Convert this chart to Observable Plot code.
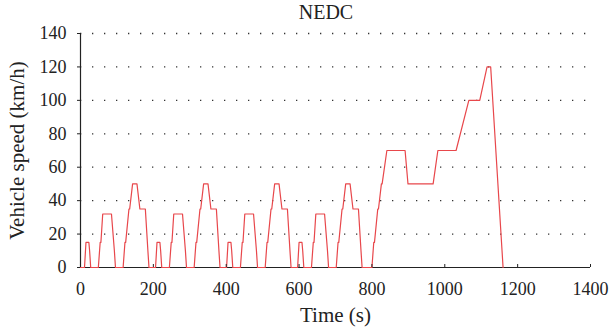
<!DOCTYPE html>
<html><head><meta charset="utf-8">
<script src="https://cdn.jsdelivr.net/npm/d3@7"></script>
<script src="https://cdn.jsdelivr.net/npm/@observablehq/plot@0.6"></script>
<style>
body{margin:0;background:#fff;font-family:"Liberation Serif",serif;}
#title{height:22px;width:609px;box-sizing:border-box;padding-left:43px;text-align:center;font-size:20px;line-height:24px;color:#222;}
svg text{font-family:"Liberation Serif",serif !important;font-variant:normal !important;}
</style></head><body>
<div id="title">NEDC</div>
<div id="chart"></div>
<script>
const titleText = "NEDC";
const xLabel = "Time (s)";
const yLabel = "Vehicle speed (km/h)";
const xTicks = [0, 200, 400, 600, 800, 1000, 1200, 1400];
const yTicks = [0, 20, 40, 60, 80, 100, 120, 140];
const gridY = [20, 40, 60, 80, 100, 120, 140];

// Urban (ECE-15) part, four repetitions
const urbanTime = [
  0,11,15,23,25,28,49,54,56,61,85,93,96,117,122,124,133,135,143,155,163,176,178,185,188,
  195,206,210,218,220,223,244,249,251,256,280,288,291,312,317,319,328,330,338,350,358,371,373,380,383,
  390,401,405,413,415,418,439,444,446,451,475,483,486,507,512,514,523,525,533,545,553,566,568,575,578,
  585,596,600,608,610,613,634,639,641,646,670,678,681,702,707,709,718,720,728,740,748,761,763,770,773
];
const urbanSpeed = [
  0,0,15,15,10,0,0,15,15,32,32,10,0,0,15,15,35,35,50,50,35,35,35,10,0,
  0,0,15,15,10,0,0,15,15,32,32,10,0,0,15,15,35,35,50,50,35,35,35,10,0,
  0,0,15,15,10,0,0,15,15,32,32,10,0,0,15,15,35,35,50,50,35,35,35,10,0,
  0,0,15,15,10,0,0,15,15,32,32,10,0,0,15,15,35,35,50,50,35,35,35,10,0
];
// Extra-urban (EUDC) part
const extraTime = [780,800,805,807,816,818,826,828,841,891,899,968,981,1031,1066,1096,1116,1126,1160];
const extraSpeed = [0,0,15,15,35,35,50,50,70,70,50,50,70,70,100,100,120,120,0];

const data = urbanTime.map((t, i) => ({t, v: urbanSpeed[i]}))
  .concat(extraTime.map((t, i) => ({t, v: extraSpeed[i]})));

document.getElementById("title").textContent = titleText;

const serif = "Liberation Serif";
const chart = Plot.plot({
  width: 609,
  height: 310,
  marginLeft: 80,
  marginRight: 19,
  marginTop: 11,
  marginBottom: 65,
  style: {fontFamily: "'Liberation Serif', serif", fontSize: "18px", color: "#222", background: "#fff", overflow: "visible"},
  x: {domain: [0, 1400]},
  y: {domain: [0, 140]},
  marks: [
    Plot.ruleY(gridY, {stroke: "#333", strokeWidth: 1.3, strokeDasharray: "1.3 10.7", strokeDashoffset: -12}),
    Plot.ruleY([0], {stroke: "#222", strokeWidth: 1.2}),
    Plot.ruleX([0], {stroke: "#222", strokeWidth: 1.2}),
    Plot.line(data, {x: "t", y: "v", stroke: "#e8474b", strokeWidth: 1.2}),
    Plot.axisX(xTicks, {tickSize: -3, tickPadding: 18, label: null, fontSize: 18, fontFamily: serif, fontVariant: "normal", stroke: "#222", fill: "#222", tickFormat: d => String(d)}),
    Plot.axisY(yTicks, {tickSize: 3, tickPadding: 11, label: null, fontSize: 18, fontFamily: serif, fontVariant: "normal", stroke: "#222", fill: "#222", tickFormat: d => String(d)}),
    Plot.text([xLabel], {frameAnchor: "bottom", dy: 54, fontSize: 21, fontFamily: serif, fill: "#222"}),
    Plot.text([yLabel], {frameAnchor: "left", textAnchor: "middle", dx: -63, rotate: -90, fontSize: 21, fontFamily: serif, fill: "#222"})
  ]
});
document.getElementById("chart").appendChild(chart);
</script>
</body></html>
